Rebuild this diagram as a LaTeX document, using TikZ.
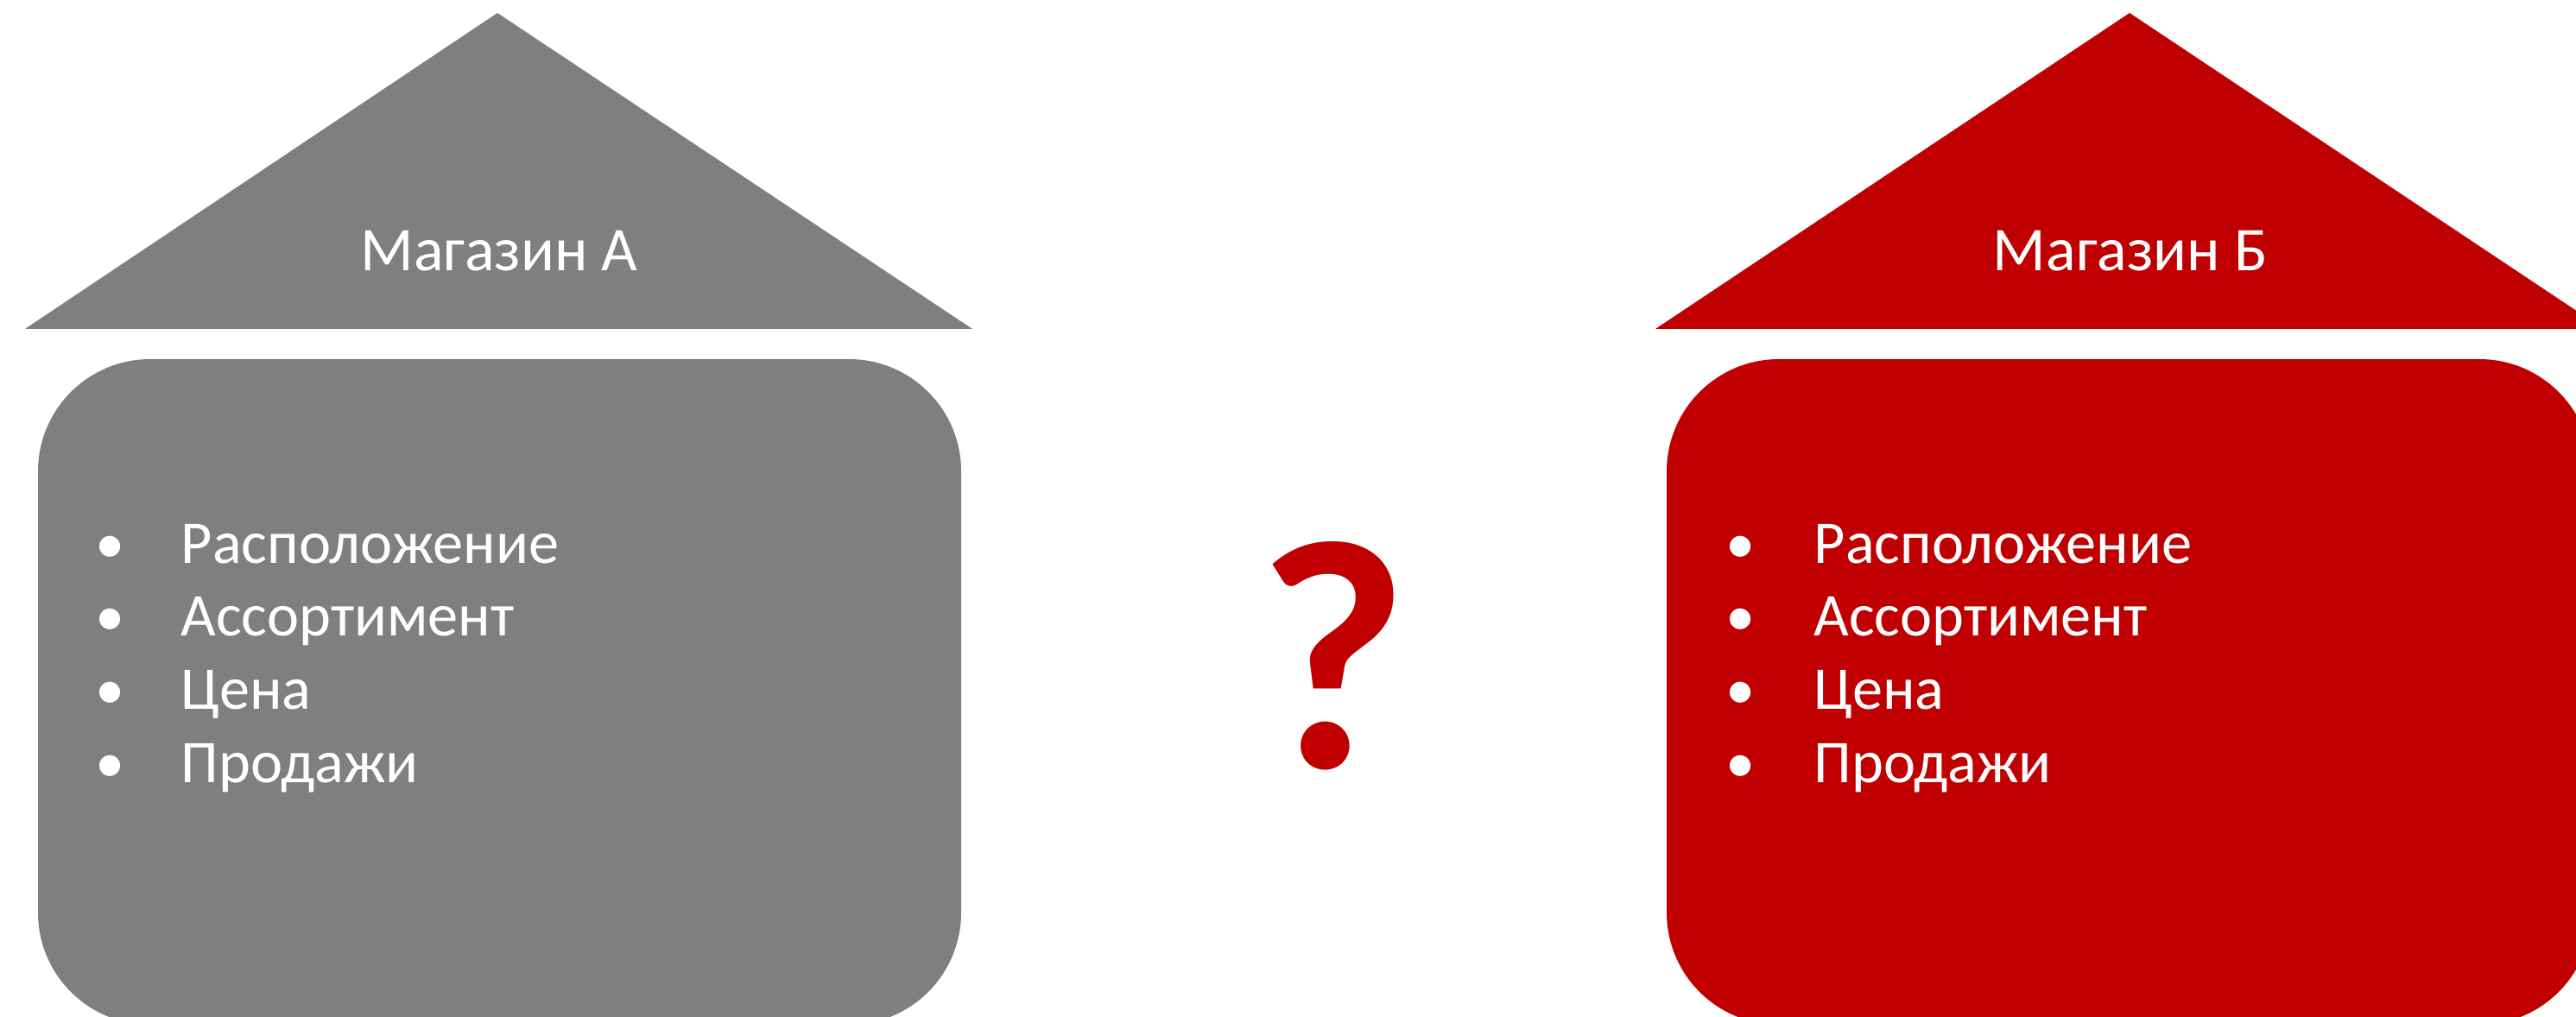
\documentclass[tikz,border=0pt]{standalone}
\usepackage{fontspec}
\setmainfont{Carlito}
\usetikzlibrary{positioning}
\definecolor{shopgrey}{RGB}{127,127,127}
\definecolor{shopred}{RGB}{192,0,0}

\begin{document}
\begin{tikzpicture}[
        roof/.style={fill=#1, draw=none},
        wall/.style={fill=#1, draw=none, rounded corners=1.3cm},
        title/.style={text=white, font=\fontsize{20.5}{24}\selectfont, anchor=base, inner sep=0pt},
        item/.style={text=white, font=\fontsize{20}{24}\selectfont, anchor=base west, inner sep=0pt},
        dot/.style={text=white, font=\fontsize{19.5}{24}\selectfont, anchor=base, inner sep=0pt}
    ]
        % Page size
        \useasboundingbox (0,0) rectangle (29.83,11.77);
        \clip (0,0) rectangle (29.83,11.77);

        % Roofs of shops A and B
        \fill[roof=shopgrey] (0.29,7.96) -- (5.76,11.62) -- (11.26,7.96) -- cycle;
        \fill[roof=shopred] (19.17,7.96) -- (24.66,11.62) -- (30.15,7.96) -- cycle;
        \node[title] (nameA) at (5.78,8.63) {Магазин А};
        \node[title] (nameB) at (24.67,8.63) {Магазин Б};

        % Walls of shops A and B
        \fill[wall=shopgrey] (0.44,-0.1) rectangle (11.13,7.61);
        \fill[wall=shopred] (19.30,-0.1) rectangle (30.01,7.61);

        % Bullet lists
        \foreach \txt/\y [count=\i] in {Расположение/5.25, Ассортимент/4.41, Цена/3.56, Продажи/2.71} {
            \node[dot] (da\i) at (1.28,\y) {•};
            \node[item] (a\i) at (2.09,\y) {\txt};
            \node[dot] (db\i) at (20.16,\y) {•};
            \node[item] (b\i) at (21.00,\y) {\txt};
        }

        % Question mark between the shops
        \node[text=shopred, font=\fontsize{108}{108}\selectfont\bfseries, anchor=base, inner sep=0pt] (q) at (15.43,2.88) {?};
    \end{tikzpicture}
\end{document}
